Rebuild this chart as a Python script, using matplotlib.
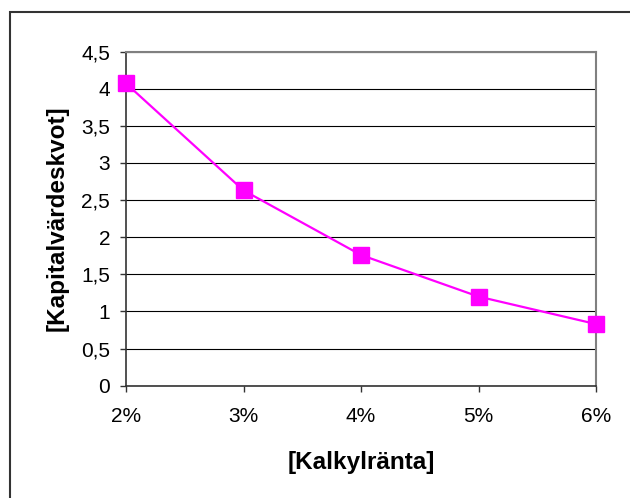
import matplotlib
matplotlib.use("Agg")
import matplotlib.pyplot as plt
from matplotlib.patches import Rectangle

plt.rcParams['font.family'] = ['Liberation Sans', 'DejaVu Sans']

rates = ["2%", "3%", "4%", "5%", "6%"]
ratio = [4.07, 2.63, 1.76, 1.20, 0.83]
y_ticks = [0, 0.5, 1, 1.5, 2, 2.5, 3, 3.5, 4, 4.5]
y_tick_labels = ["0", "0,5", "1", "1,5", "2", "2,5", "3", "3,5", "4", "4,5"]

W, H = 630, 498
fig = plt.figure(figsize=(W / 100, H / 100), dpi=100)

# chart frame (open to the right and bottom)
fig.add_artist(Rectangle((9.5 / W, -0.1), 1.2, (H - 12.5) / H + 0.1,
                         transform=fig.transFigure, fill=False,
                         edgecolor="#333333", linewidth=1.5))

left, right, top, bottom = 126, 596, 51.5, 385.7
ax = fig.add_axes([left / W, 1 - bottom / H, (right - left) / W, (bottom - top) / H])

x = list(range(len(rates)))
ax.plot(x, ratio, color="#FF00FF", linewidth=1.6, marker="s",
        markersize=11, markeredgecolor="#FF00FF", markerfacecolor="#FF00FF",
        clip_on=False, zorder=5)

ax.set_xlim(0, len(rates) - 1)
ax.set_ylim(0, 4.5)
ax.set_xticks(x)
ax.set_xticklabels(rates, fontsize=15)
ax.set_yticks(y_ticks)
ax.set_yticklabels(y_tick_labels, fontsize=15)
ax.grid(axis="y", color="black", linewidth=0.8)
ax.set_axisbelow(True)
ax.tick_params(axis="both", direction="out", length=4.5, width=1, color="#333333")
ax.tick_params(axis="x", pad=11)
ax.tick_params(axis="y", pad=7)

for side in ("top", "right"):
    ax.spines[side].set_color("#808080")
    ax.spines[side].set_linewidth(1.5)
for side in ("left", "bottom"):
    ax.spines[side].set_color("#333333")
    ax.spines[side].set_linewidth(1.2)

ax.set_xlabel("[Kalkylränta]", fontsize=17.5, fontweight="bold", labelpad=18)
ax.set_ylabel("[Kapitalvärdeskvot]", fontsize=17.5, fontweight="bold", labelpad=9)

fig.savefig("out.png", dpi=100)
